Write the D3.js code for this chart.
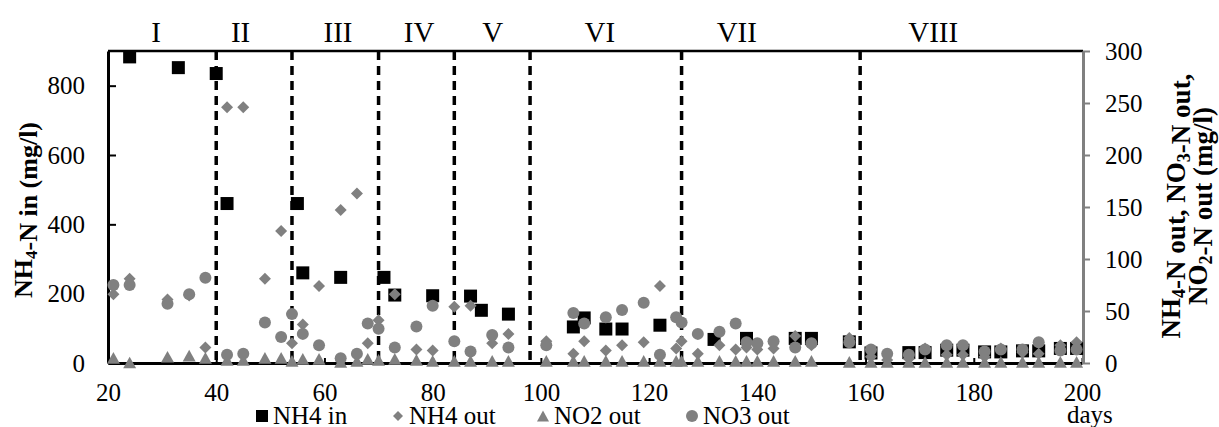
<!DOCTYPE html>
<html>
<head>
<meta charset="utf-8">
<script src="https://cdn.jsdelivr.net/npm/d3@7/dist/d3.min.js"></script>
<style>
body { margin: 0; background: #fff; }
svg text { font-family: "Liberation Serif", serif; fill: #000; }
</style>
</head>
<body>
<script>
// sampling days of the effluent series
let days = [21, 24, 31, 35, 38, 42, 45, 49, 52, 54, 56, 59, 63, 66, 68, 70, 73, 77, 80, 84,
  87, 91, 94, 101, 106, 108, 112, 115, 119, 122, 125, 126, 129, 133, 136, 138, 140, 143, 147, 150,
  157, 161, 164, 168, 171, 175, 178, 182, 185, 189, 192, 196, 199];
let nh4Out = [66, 81, 61, 65, 15, 246, 246, 81, 127, 19, 37, 74, 147, 163, 19, 41, 66, 13, 12, 54,
  55, 19, 28, 21, 9, 21, 12, 17, 20, 74, 14, 21, 9, 17, 13, 15, 13, 14, 26, 17,
  24, 6, 3, 4, 14, 8, 8, 6, 14, 10, 9, 17, 20];
let no2Out = [5, 0.5, 6, 7, 5, 3, 3, 5, 5, 2, 4, 4, 1, 2, 4, 3, 4, 3, 2, 2,
  2, 2, 2, 2, 2, 2, 2, 2, 2, 2, 2, 2, 2, 2, 2, 2, 2, 2, 2, 2,
  1, 1, 1, 1, 1, 1, 1, 1, 1, 1, 1, 1, 1];
let no3Out = [75, 75, 57, 66, 82, 8, 9, 39, 25, 47, 28, 17, 4.5, 9, 38, 33, 15, 35, 55, 21,
  11, 27, 15, 17, 48, 38, 44, 51, 58, 8, 44, 39, 28, 30, 38, 20, 19, 21, 15, 19,
  20, 13, 9, 8, 13, 17, 17, 11, 13, 13, 20, 12, 13];

// influent
let inDays = [24, 33, 40, 42, 55, 56, 63, 71, 73, 80, 87, 89, 94, 106, 108, 112, 115, 122,
  132, 138, 147, 150, 157, 161, 168, 171, 175, 178, 182, 185, 189, 192, 196, 199];
let nh4In = [883, 852, 835, 460, 460, 260, 247, 247, 196, 194, 193, 152, 141, 104, 130, 98, 98, 109,
  68, 71, 71, 71, 61, 29, 30, 30, 37, 37, 32, 32, 35, 35, 42, 42];

// phases
let phaseBreaks = [40, 54, 70, 84, 98, 126, 159];
let phaseNames = ["I", "II", "III", "IV", "V", "VI", "VII", "VIII"];
let phaseAt = [28.9, 44.5, 62.5, 77.5, 91.1, 110.9, 136.2, 172.5];

let xTicks = [20, 40, 60, 80, 100, 120, 140, 160, 180, 200];
let leftTicks = [0, 200, 400, 600, 800];
let rightTicks = [0, 50, 100, 150, 200, 250, 300];

let W = 1219, H = 427;
let pLeft = 108, pRight = 1082, pTop = 51, pBottom = 363;
let grey = "#808080";
let serif = "Liberation Serif";

var svg = d3.select("body")
  .append("svg")
  .attr("width", W)
  .attr("height", H)
  .attr("font-family", serif);

var x = d3.scaleLinear().domain([20, 200]).range([pLeft, pRight]);
var yL = d3.scaleLinear().domain([0, 900]).range([pBottom, pTop]);
var yR = d3.scaleLinear().domain([0, 300]).range([pBottom, pTop]);

// marker outlines, centred on 0,0
function shape(kind, s) {
  var h = s / 2;
  switch (kind) {
    case "square": return `M${-h},${-h}h${s}v${s}h${-s}Z`;
    case "diamond": return `M0,${-h}L${h},0L0,${h}L${-h},0Z`;
    case "triangle": return `M0,${-h * 0.9}L${h},${h * 0.9}L${-h},${h * 0.9}Z`;
    case "circle": return `M${-h},0a${h},${h} 0 1,0 ${s},0a${h},${h} 0 1,0 ${-s},0Z`;
  }
}

var series = [
  { name: "NH4 in", xs: inDays, vs: nh4In, y: yL, kind: "square", size: 13, color: "#000" },
  { name: "NH4 out", xs: days, vs: nh4Out, y: yR, kind: "diamond", size: 12, color: grey },
  { name: "NO2 out", xs: days, vs: no2Out, y: yR, kind: "triangle", size: 13, color: grey },
  { name: "NO3 out", xs: days, vs: no3Out, y: yR, kind: "circle", size: 12, color: grey }
];

// phase boundaries (behind the markers)
svg.append("g")
  .selectAll("line")
  .data(phaseBreaks)
  .enter()
  .append("line")
  .attr("x1", d => x(d)).attr("x2", d => x(d))
  .attr("y1", pTop).attr("y2", pBottom)
  .attr("stroke", "#000")
  .attr("stroke-width", 3.5)
  .attr("stroke-dasharray", "9,6");

svg.append("g")
  .selectAll("text")
  .data(phaseNames)
  .enter()
  .append("text")
  .attr("x", (d, i) => x(phaseAt[i]))
  .attr("y", 42)
  .attr("text-anchor", "middle")
  .style("font-family", serif)
  .style("font-size", "29px")
  .text(d => d);

function styleAxis(g, col) {
  g.attr("font-family", null).attr("font-size", null);
  g.select(".domain").attr("stroke", col).attr("stroke-width", 3);
  g.selectAll(".tick line").attr("stroke", col).attr("stroke-width", 2);
  g.selectAll("text").style("font-family", serif).style("font-size", "25px");
}

// axes
var gx = svg.append("g")
  .attr("transform", `translate(0,${pBottom})`)
  .call(d3.axisBottom(x).tickValues(xTicks).tickSize(-5).tickSizeOuter(0).tickPadding(20));
styleAxis(gx, "#000");

var gl = svg.append("g")
  .attr("transform", `translate(${pLeft},0)`)
  .call(d3.axisLeft(yL).tickValues(leftTicks).tickSize(-8).tickSizeOuter(0).tickPadding(23));
styleAxis(gl, "#000");

svg.append("line")
  .attr("x1", pLeft).attr("x2", pRight + 1)
  .attr("y1", pTop).attr("y2", pTop)
  .attr("stroke", "#000")
  .attr("stroke-width", 2.5);

var gr = svg.append("g")
  .attr("transform", `translate(${pRight + 1},0)`)
  .call(d3.axisRight(yR).tickValues(rightTicks).tickSize(7).tickSizeOuter(0).tickPadding(15));
styleAxis(gr, grey);

// points
series.forEach(function (s) {
  svg.append("g")
    .selectAll("path")
    .data(s.xs)
    .enter()
    .append("path")
    .attr("transform", (d, i) => `translate(${x(d)},${s.y(s.vs[i])})`)
    .attr("d", shape(s.kind, s.size))
    .attr("fill", s.color);
});

// axis titles with subscripts
function title(g, parts, size) {
  var t = g.append("text")
    .attr("text-anchor", "middle")
    .style("font-family", serif)
    .style("font-size", size + "px")
    .style("font-weight", "bold");
  parts.forEach(function (p) {
    if (p.sub) {
      t.append("tspan").attr("dy", 5).style("font-size", Math.round(size * 0.65) + "px").text(p.sub);
      t.append("tspan").attr("dy", -5).text("");
    } else {
      t.append("tspan").text(p.t);
    }
  });
  return t;
}

var lt = svg.append("g").attr("transform", "translate(32,210) rotate(-90)");
title(lt, [{ t: "NH" }, { sub: "4" }, { t: "-N in (mg/l)" }], 26);

var rt = svg.append("g").attr("transform", "translate(1180,206) rotate(-90)");
title(rt, [{ t: "NH" }, { sub: "4" }, { t: "-N out, NO" }, { sub: "3" }, { t: "-N out," }], 27);
var rt2 = svg.append("g").attr("transform", "translate(1207,206) rotate(-90)");
title(rt2, [{ t: "NO" }, { sub: "2" }, { t: "-N out (mg/l)" }], 27);

// legend
var legendX = [262, 398, 543, 692];
var lg = svg.append("g")
  .selectAll("g")
  .data(series)
  .enter()
  .append("g")
  .attr("transform", (d, i) => `translate(${legendX[i]},416)`);
lg.append("path")
  .attr("d", d => shape(d.kind, d.kind == "diamond" ? 10 : 12))
  .attr("fill", d => d.color);
lg.append("text")
  .attr("x", 11)
  .attr("y", 8)
  .style("font-family", serif)
  .style("font-size", "25px")
  .text(d => d.name);

svg.append("text")
  .attr("x", 1067)
  .attr("y", 423)
  .style("font-family", serif)
  .style("font-size", "25px")
  .text("days");
</script>
</body>
</html>
